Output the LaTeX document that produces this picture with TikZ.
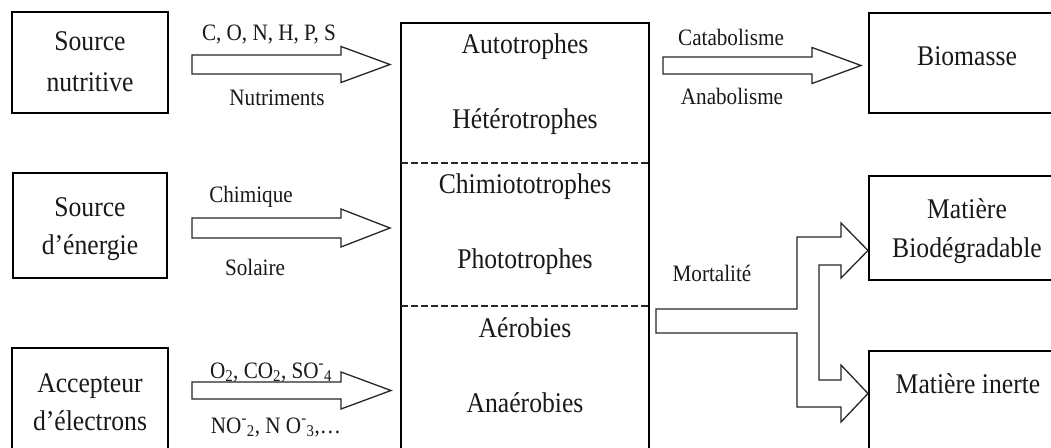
\documentclass[tikz,border=0pt]{standalone}
\usepackage{fontspec}
\setmainfont{Liberation Serif}
\newfontfamily\narrowserif[FakeStretch=0.9]{Liberation Serif}
\newcommand\bigtxt{\narrowserif\fontsize{28.5}{34}\selectfont}
\newcommand\lbltxt{\narrowserif\fontsize{23.5}{28}\selectfont}

% hollow block arrow: x-start, x-head-base, x-tip, y-centre, shaft half-width, head half-width
\newcommand\fatarrow[6]{%
  \draw[blk] (#1,#4-#5) -- (#2,#4-#5) -- (#2,#4-#6) -- (#3,#4)
    -- (#2,#4+#6) -- (#2,#4+#5) -- (#1,#4+#5) -- cycle;}

\tikzset{
  box/.style={draw=black, line width=1.4pt, inner sep=0pt, outer sep=0pt},
  blk/.style={draw=black!85, line width=1.3pt, fill=white, line join=miter},
  sep/.style={draw=black!85, line width=1.3pt, dash pattern=on 6.5pt off 3.5pt},
  big/.style={font=\bigtxt, anchor=base, inner sep=0pt, text=black!90},
  lbl/.style={font=\lbltxt, anchor=base, inner sep=0pt, text=black!90},
}

\begin{document}
\begin{tikzpicture}[x=1pt, y=-1pt]
\useasboundingbox (0,0) rectangle (1051,447);
\fill[white] (0,0) rectangle (1051,447);
\clip (0,0) rectangle (1051,447);

% input boxes
\node[box, anchor=north west, minimum width=156pt, minimum height=101pt] (nutri) at (12,12) {};
\node[box, anchor=north west, minimum width=154pt, minimum height=105pt] (energ) at (13,173) {};
\node[box, anchor=north west, minimum width=156pt, minimum height=120pt] (accep) at (12,348) {};

% central box with its three sections
\node[box, anchor=north west, minimum width=248pt, minimum height=440pt] (micro) at (401,23) {};
\draw[sep] (401,163) -- (649,163);
\draw[sep] (401,306) -- (649,306);

% output boxes
\node[box, anchor=north west, minimum width=200pt, minimum height=100pt] (biom) at (869,13) {};
\node[box, anchor=north west, minimum width=200pt, minimum height=104pt] (biodeg) at (869,176) {};
\node[box, anchor=north west, minimum width=200pt, minimum height=120pt] (inerte) at (869,351) {};

% box texts
\node[big] (t1a) at (90,50) {Source};
\node[big] (t1b) at (90,91) {nutritive};
\node[big] (t2a) at (90,216) {Source};
\node[big] (t2b) at (90,254) {d’énergie};
\node[big] (t3a) at (90,392) {Accepteur};
\node[big] (t3b) at (90,430) {d’électrons};

\node[big] (m1) at (525,53) {Autotrophes};
\node[big] (m2) at (525,128) {Hétérotrophes};
\node[big] (m3) at (525,193) {Chimiototrophes};
\node[big] (m4) at (525,268) {Phototrophes};
\node[big] (m5) at (525,337) {Aérobies};
\node[big] (m6) at (525,412) {Anaérobies};

\node[big] (o1) at (967,65) {Biomasse};
\node[big] (o2a) at (967,218) {Matière};
\node[big] (o2b) at (967,257) {Biodégradable};
\node[big] (o3) at (968,393) {Matière inerte};

% block arrows
\fatarrow{192}{341}{390}{64.5}{9.5}{18}
\fatarrow{192}{341}{390}{228}{10}{19}
\fatarrow{192}{341}{391}{390.5}{8.5}{18.5}
\fatarrow{663}{812}{861}{65.5}{8.5}{18}

% mortality arrow splitting towards both outputs
\draw[blk] (656,309) -- (797,309) -- (797,237) -- (841,237) -- (841,223)
  -- (868,250.5) -- (841,278) -- (841,265) -- (819,265) -- (819,380)
  -- (841,380) -- (841,365) -- (868,393.5) -- (841,422) -- (841,407)
  -- (797,407) -- (797,333) -- (656,333) -- cycle;

% arrow labels
\node[lbl] (l1a) at (269,40) {C, O, N, H, P, S};
\node[lbl] (l1b) at (277,105) {Nutriments};
\node[lbl] (l2a) at (251,202) {Chimique};
\node[lbl] (l2b) at (255,275) {Solaire};
\node[lbl] (l3a) at (271,378) {O\textsubscript{2}, CO\textsubscript{2}, SO\textsuperscript{-}\textsubscript{4}};
\node[lbl] (l3b) at (276,433) {NO\textsuperscript{-}\textsubscript{2}, N O\textsuperscript{-}\textsubscript{3},…};
\node[lbl] (l4a) at (731,45) {Catabolisme};
\node[lbl] (l4b) at (732,104) {Anabolisme};
\node[lbl] (l5) at (712,281) {Mortalité};
\end{tikzpicture}
\end{document}
